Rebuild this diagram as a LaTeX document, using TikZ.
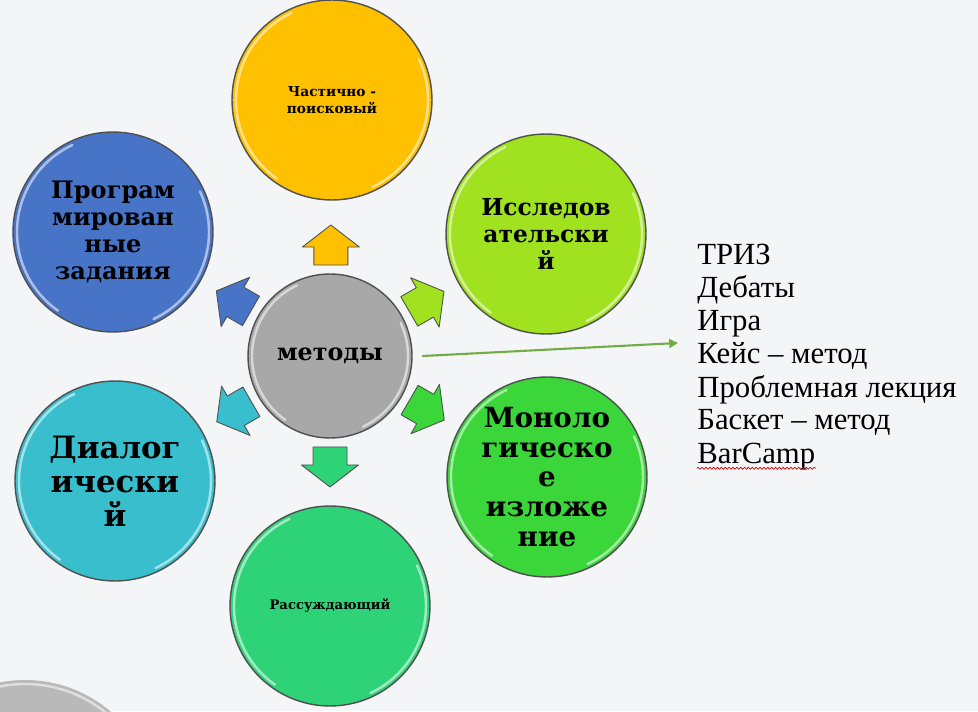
\documentclass[tikz,border=0pt]{standalone}
\usepackage{fontspec}
\setmainfont{Liberation Serif}
\newfontfamily\ballfont{DejaVu Serif}
\usetikzlibrary{arrows.meta,calc,decorations.pathmorphing}
\definecolor{bgcol}{RGB}{244,245,247}
\definecolor{rimcol}{RGB}{80,80,80}
\definecolor{grycol}{RGB}{168,168,168}
\definecolor{yelcol}{RGB}{255,192,0}
\definecolor{limecol}{RGB}{160,226,32}
\definecolor{grncol}{RGB}{58,214,58}
\definecolor{seacol}{RGB}{46,211,120}
\definecolor{cyacol}{RGB}{56,190,205}
\definecolor{blucol}{RGB}{72,116,200}
\definecolor{linkcol}{RGB}{112,173,71}
\begin{document}
\begin{tikzpicture}[x=0.02cm, y=0.02cm, line join=round, line cap=round,
	ball/.style={circle, draw=rimcol, line width=0.8pt, minimum size=4cm, inner sep=0pt, align=center},
	gloss/.style={white, opacity=0.55, line width=1.4pt},
	item/.style={anchor=base west, inner sep=0pt, font=\fontsize{17.5}{21}\selectfont},
	blockarr/.pic={\draw[pic actions, draw=rimcol, line width=0.5pt] (-20,-17) -- (-2,-17) -- (-2,-28.5) -- (20,0) -- (-2,28.5) -- (-2,17) -- (-20,17) -- cycle;}]
	\def\fs#1#2{\ballfont\bfseries\fontsize{#1}{#2}\selectfont}
	\useasboundingbox (0,0) rectangle (978,711);
	\fill[bgcol] (0,0) rectangle (978,711);
	% серый круг в углу
	\begin{scope}
	\clip (0,0) rectangle (978,711);
	\fill[gray!55] (25,-101) circle (132);
	\draw[gloss] (25,-101) ++(40:128) arc[start angle=40, end angle=140, radius=128];
	\end{scope}
	\node[ball, fill=grycol, minimum size=3.28cm, font=\fs{13.5}{16}] (m) at (330,355) {методы};
	\node[ball, fill=yelcol, font=\fs{7.8}{9.6}] (top) at (332,611) {Частично -\\поисковый};
	\node[ball, fill=limecol, font=\fs{13.3}{15.3}] (ur) at (546,477) {Исследов\\ательски\\й};
	\node[ball, fill=grncol, font=\fs{15.8}{17}] (lr) at (547,234) {Моноло\\гическо\\е\\изложе\\ние};
	\node[ball, fill=seacol, font=\fs{7.5}{9}] (bot) at (330,105) {Рассуждающий};
	\node[ball, fill=cyacol, font=\fs{17.5}{19.3}] (ll) at (115,230) {Диалог\\ически\\й};
	\node[ball, fill=blucol, font=\fs{13.7}{15.3}] (ul) at (113,479) {Програм\\мирован\\ные\\задания};
	\foreach \nm/\r in {m/78,top/96,ur/96,lr/96,bot/96,ll/96,ul/96}{
		\draw[gloss] (\nm.center) ++(115:\r) arc[start angle=115, end angle=235, radius=\r];
		\draw[gloss] (\nm.center) ++(-65:\r) arc[start angle=-65, end angle=25, radius=\r];
	}
	\foreach \nm/\ang/\col in {top/90/yelcol, ul/150/blucol, ur/30/limecol, lr/-30/grncol, ll/-150/cyacol, bot/-90/seacol}
		\pic[fill=\col, rotate=\ang] at ($(m)!2.22cm!(\nm)$) {blockarr};
	\coordinate (tip) at (678,368);
	\draw[linkcol, line width=1.2pt, -{Triangle[length=5pt,width=5pt]}] ([xshift=0.2cm]m.east) -- (tip);
	\foreach \t [count=\i] in {ТРИЗ, Дебаты, Игра, Кейс – метод, Проблемная лекция, Баскет – метод, BarCamp}
		\node[item] (it\i) at (697,{446-33*(\i-1)}) {\t};
	\draw[red!80!black, line width=0.4pt, decorate, decoration={snake, amplitude=0.6pt, segment length=2.2pt}] ([yshift=-3pt]it7.base west) -- ([yshift=-3pt]it7.base east);
\end{tikzpicture}
\end{document}
